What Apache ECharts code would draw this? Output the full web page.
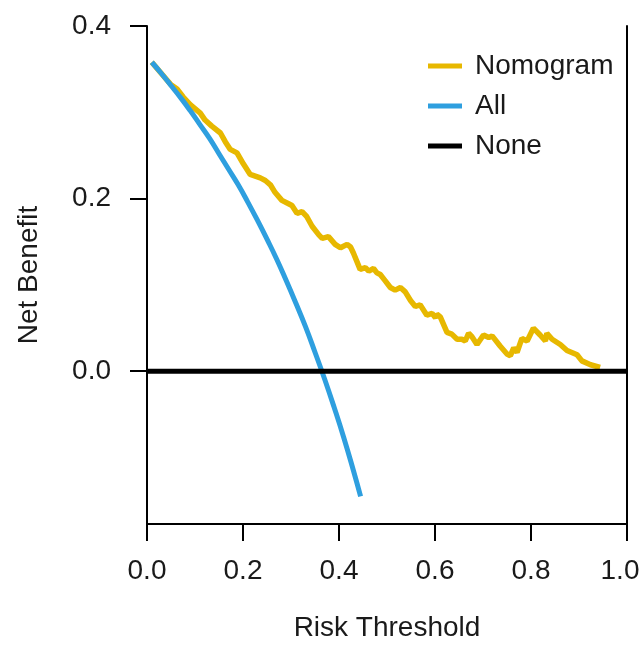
<!DOCTYPE html>
<html>
<head>
<meta charset="utf-8">
<script src="https://cdn.jsdelivr.net/npm/echarts@6/dist/echarts.min.js"></script>
<style>html,body{margin:0;padding:0;background:#fff}#chart{width:643px;height:647px}</style>
</head>
<body>
<div id="chart"></div>
<script>
// Risk thresholds and net benefit values
var nomogramThreshold = [0.010,0.030,0.050,0.0625,0.075,0.090,0.111,0.121,0.135,0.153,0.163,0.1735,0.1875,0.201,0.215,0.236,0.2465,0.257,0.267,0.281,0.295,0.302,0.3125,0.323,0.333,0.344,0.358,0.365,0.378,0.392,0.403,0.417,0.424,0.430,0.444,0.455,0.462,0.472,0.479,0.486,0.496,0.507,0.517,0.528,0.538,0.549,0.559,0.569,0.583,0.594,0.601,0.604,0.611,0.625,0.635,0.646,0.656,0.663,0.670,0.677,0.6875,0.701,0.712,0.719,0.736,0.750,0.757,0.764,0.771,0.781,0.792,0.805,0.819,0.830,0.833,0.844,0.861,0.875,0.896,0.906,0.924,0.944];
var nomogramNB = [0.358,0.345,0.332,0.327,0.318,0.309,0.299,0.291,0.284,0.276,0.266,0.257,0.253,0.240,0.228,0.224,0.221,0.216,0.207,0.198,0.194,0.192,0.183,0.185,0.179,0.168,0.158,0.154,0.156,0.147,0.143,0.147,0.144,0.137,0.118,0.120,0.116,0.119,0.114,0.112,0.105,0.097,0.094,0.097,0.092,0.082,0.075,0.077,0.065,0.067,0.062,0.066,0.063,0.045,0.043,0.037,0.037,0.035,0.044,0.040,0.031,0.042,0.039,0.041,0.029,0.020,0.018,0.027,0.022,0.038,0.035,0.050,0.042,0.035,0.044,0.037,0.031,0.024,0.019,0.012,0.0075,0.0045];
var allThreshold = [0.01,0.03,0.05,0.07,0.09,0.11,0.13,0.15,0.17,0.19,0.21,0.23,0.25,0.27,0.29,0.31,0.33,0.35,0.37,0.39,0.41,0.43,0.445];
var allNB = [0.358,0.345,0.331,0.317,0.302,0.286,0.270,0.252,0.234,0.216,0.196,0.175,0.153,0.130,0.105,0.079,0.052,0.022,-0.009,-0.042,-0.077,-0.115,-0.145];
var noneThreshold = [0, 1];
var noneNB = [0, 0];
var xTicks = [0, 0.2, 0.4, 0.6, 0.8, 1.0];
var yTicks = [0, 0.2, 0.4];
var seriesNames = ['Nomogram', 'All', 'None'];

function zip(a, b) { return a.map(function (v, i) { return [v, b[i]]; }); }

var FONT = 'Liberation Sans, Arial, sans-serif';
var FS = 28;
var chart = echarts.init(document.getElementById('chart'), null, {renderer: 'canvas'});
chart.setOption({
  animation: false,
  backgroundColor: '#ffffff',
  grid: {left: 147, right: 16, top: 26, bottom: 114, containLabel: false},
  legend: {
    orient: 'vertical', left: 423, top: 47, itemGap: 12,
    itemWidth: 34, itemHeight: 5, icon: 'rect',
    textStyle: {fontFamily: FONT, fontSize: FS, color: '#1a1a1a', padding: [0, 0, 0, 8]},
    data: seriesNames
  },
  xAxis: {
    type: 'value', min: 0, max: 1, interval: 0.2,
    name: 'Risk Threshold', nameLocation: 'middle', nameGap: 90,
    nameTextStyle: {fontFamily: FONT, fontSize: FS, color: '#1a1a1a'},
    axisLine: {show: true, onZero: false, lineStyle: {color: '#000', width: 2}},
    axisTick: {show: true, length: 17, lineStyle: {color: '#000', width: 2}},
    axisLabel: {fontFamily: FONT, fontSize: FS, color: '#1a1a1a', margin: 33,
      customValues: xTicks,
      formatter: function (v) { return v >= 1 ? '{r|' + v.toFixed(1) + '}' : v.toFixed(1); },
      rich: {r: {fontFamily: FONT, fontSize: FS, color: '#1a1a1a', padding: [0, 14, 0, 0]}}},
    splitLine: {show: false}
  },
  yAxis: [{
    type: 'value', min: -0.177, max: 0.4,
    name: 'Net Benefit', nameLocation: 'middle', nameGap: 104,
    nameTextStyle: {fontFamily: FONT, fontSize: FS, color: '#1a1a1a'},
    axisLine: {show: true, onZero: false, lineStyle: {color: '#000', width: 2}},
    axisTick: {show: true, length: 17, customValues: yTicks, lineStyle: {color: '#000', width: 2}},
    axisLabel: {fontFamily: FONT, fontSize: FS, color: '#1a1a1a', margin: 36,
      customValues: yTicks, formatter: function (v) { return v.toFixed(1); }},
    splitLine: {show: false}
  }, {
    type: 'value', min: -0.177, max: 0.4, position: 'right',
    axisLine: {show: true, onZero: false, lineStyle: {color: '#000', width: 2}},
    axisTick: {show: false}, axisLabel: {show: false}, splitLine: {show: false}
  }],
  series: [
    {name: 'Nomogram', type: 'line', z: 2, showSymbol: false, symbol: 'none',
      color: '#E7B800', lineStyle: {color: '#E7B800', width: 5.5},
      data: zip(nomogramThreshold, nomogramNB)},
    {name: 'All', type: 'line', z: 3, showSymbol: false, symbol: 'none', smooth: true,
      color: '#2E9FDF', lineStyle: {color: '#2E9FDF', width: 5},
      data: zip(allThreshold, allNB)},
    {name: 'None', type: 'line', z: 4, showSymbol: false, symbol: 'none',
      color: '#000000', lineStyle: {color: '#000000', width: 5},
      data: zip(noneThreshold, noneNB)}
  ]
});
</script>
</body>
</html>
